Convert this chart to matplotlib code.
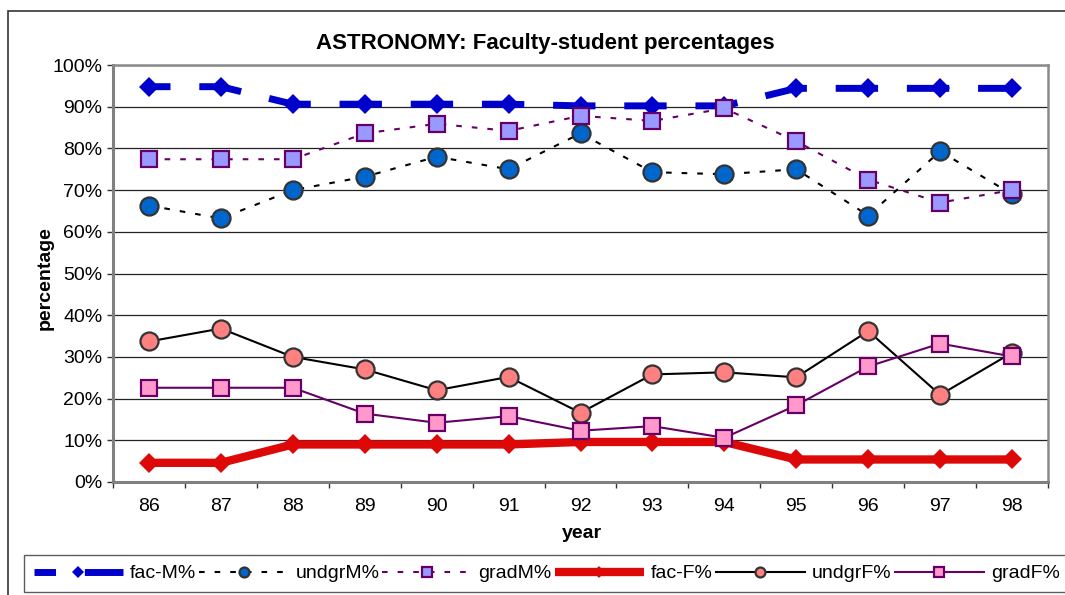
import matplotlib
matplotlib.use("Agg")
import matplotlib.pyplot as plt
from matplotlib.patches import Rectangle

plt.rcParams['font.family'] = ['Liberation Sans', 'DejaVu Sans']

# Data: percentages by academic year
years = ['86', '87', '88', '89', '90', '91', '92', '93', '94', '95', '96', '97', '98']
fac_m = [94.8, 94.8, 90.6, 90.6, 90.6, 90.6, 90.2, 90.2, 90.2, 94.4, 94.4, 94.4, 94.4]
undgr_m = [66.3, 63.2, 70.0, 73.2, 78.0, 75.0, 83.6, 74.3, 73.8, 75.0, 63.9, 79.3, 69.0]
grad_m = [77.4, 77.4, 77.4, 83.6, 85.9, 84.2, 87.8, 86.6, 89.6, 81.7, 72.5, 67.0, 70.0]
fac_f = [4.6, 4.6, 9.0, 9.0, 9.0, 9.0, 9.6, 9.6, 9.6, 5.4, 5.4, 5.4, 5.4]
undgr_f = [33.7, 36.8, 30.0, 27.0, 22.0, 25.2, 16.6, 25.8, 26.3, 25.1, 36.2, 20.9, 31.0]
grad_f = [22.6, 22.6, 22.6, 16.4, 14.2, 15.8, 12.3, 13.4, 10.6, 18.4, 27.7, 33.2, 30.1]
series_labels = ['fac-M%', 'undgrM%', 'gradM%', 'fac-F%', 'undgrF%', 'gradF%']

W, H = 1065, 595
fig = plt.figure(figsize=(W / 100, H / 100), dpi=100)
fig.patch.set_facecolor('white')

# outer chart border
fig.patches.append(Rectangle((8 / W, -0.1), 1.2, 1 - 11 / H + 0.1,
                             transform=fig.transFigure, fill=False,
                             edgecolor='#333333', linewidth=1.2, zorder=0))

ax = fig.add_axes([113 / W, 1 - 482 / H, (1048 - 113) / W, (482 - 65) / H])
x = list(range(len(years)))

ax.plot(x, fac_m, color='#0000CC', linewidth=5,
        linestyle=(3.0, (6.1, 4.15)), marker='D', markersize=10.2,
        markerfacecolor='#0000CC', markeredgecolor='#0000CC', markeredgewidth=0,
        label=series_labels[0], zorder=3)
ax.plot(x, undgr_m, color='black', linewidth=1.5, linestyle=(0, (2.7, 4.8)),
        marker='o', markersize=13, markerfacecolor='#0066CC',
        markeredgecolor='#333333', markeredgewidth=1.6,
        label=series_labels[1], zorder=4)
ax.plot(x, grad_m, color='#660066', linewidth=1.5, linestyle=(0, (2.7, 4.8)),
        marker='s', markersize=12, markerfacecolor='#9999FF',
        markeredgecolor='#660066', markeredgewidth=1.6,
        label=series_labels[2], zorder=5)
ax.plot(x, fac_f, color='#DD0808', linewidth=6, solid_capstyle='butt',
        marker='D', markersize=10.2, markerfacecolor='#DD0808',
        markeredgecolor='#DD0808', markeredgewidth=0,
        label=series_labels[3], zorder=6)
ax.plot(x, undgr_f, color='black', linewidth=1.5,
        marker='o', markersize=13, markerfacecolor='#FF8080',
        markeredgecolor='#333333', markeredgewidth=1.6,
        label=series_labels[4], zorder=7)
ax.plot(x, grad_f, color='#660066', linewidth=1.5,
        marker='s', markersize=12, markerfacecolor='#FF99CC',
        markeredgecolor='#660066', markeredgewidth=1.6,
        label=series_labels[5], zorder=8)

ax.set_xlim(-0.5, len(years) - 0.5)
ax.set_ylim(0, 100)
ax.set_yticks(range(0, 101, 10))
ax.set_yticklabels([f'{v}%' for v in range(0, 101, 10)], fontsize=14)
ax.set_xticks(x)
ax.set_xticklabels(years, fontsize=14)
ax.set_xticks([i - 0.5 for i in range(len(years) + 1)], minor=True)
ax.tick_params(axis='x', which='major', length=0, pad=11.5)
ax.tick_params(axis='x', which='minor', length=4, width=1, color='#333333')
ax.tick_params(axis='y', which='major', length=4, width=1, color='#333333', pad=3.5)
ax.yaxis.grid(True, color='#222222', linewidth=0.9)
ax.set_axisbelow(True)
for side in ['left', 'bottom']:
    ax.spines[side].set_color('#808080')
    ax.spines[side].set_linewidth(2.2)
for side in ['top', 'right']:
    ax.spines[side].set_color('#8a8a8a')
    ax.spines[side].set_linewidth(1.8)

fig.text(545 / W, 1 - 44 / H, 'ASTRONOMY: Faculty-student percentages',
         ha='center', va='center', fontsize=16, fontweight='bold')
fig.text(582 / W, 1 - 533 / H, 'year', ha='center', va='center',
         fontsize=14, fontweight='bold')
fig.text(45 / W, 1 - 278 / H, 'percentage', ha='center', va='center',
         rotation=90, fontsize=14, fontweight='bold')

leg = fig.legend(loc='upper left', bbox_to_anchor=(24 / W, 1 - 555 / H),
                 bbox_transform=fig.transFigure, ncol=6, fontsize=14,
                 handlelength=4.6, handletextpad=0.35, columnspacing=0.15,
                 borderpad=0.5, borderaxespad=0, numpoints=1,
                 markerscale=0.55, fancybox=False, frameon=True)
leg.get_frame().set_edgecolor('#333333')
leg.get_frame().set_linewidth(1.0)

fig.savefig('out.png', dpi=100, facecolor='white')
